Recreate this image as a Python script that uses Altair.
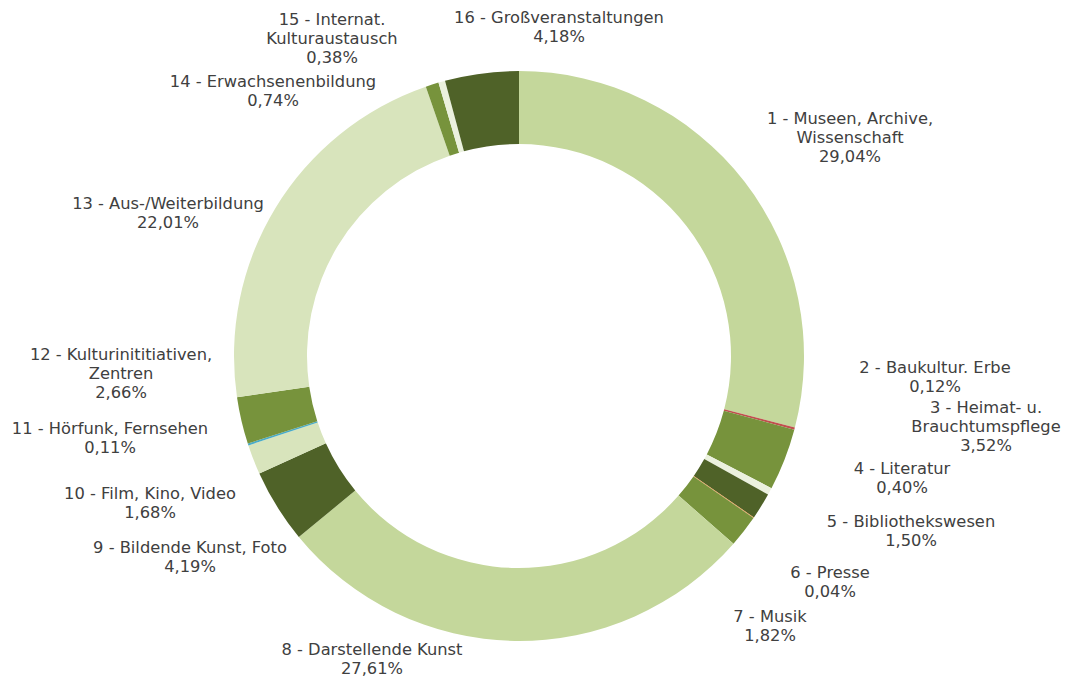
import altair as alt
import pandas as pd

# ---- data ----
categories = [
    "1 - Museen, Archive,\nWissenschaft",
    "2 - Baukultur. Erbe",
    "3 - Heimat- u.\nBrauchtumspflege",
    "4 - Literatur",
    "5 - Bibliothekswesen",
    "6 - Presse",
    "7 - Musik",
    "8 - Darstellende Kunst",
    "9 - Bildende Kunst, Foto",
    "10 - Film,  Kino, Video",
    "11 - Hörfunk, Fernsehen",
    "12 - Kulturinititiativen,\nZentren",
    "13 - Aus-/Weiterbildung",
    "14 - Erwachsenenbildung",
    "15 - Internat.\nKulturaustausch",
    "16 - Großveranstaltungen",
]
shares = [29.04, 0.12, 3.52, 0.40, 1.50, 0.04, 1.82, 27.61,
          4.19, 1.68, 0.11, 2.66, 22.01, 0.74, 0.38, 4.18]

# ---- styling ----
colors = ["#c4d79b", "#c0504d", "#77933c", "#ebf1de", "#4f6228", "#f79646",
          "#77933c", "#c4d79b", "#4f6228", "#d8e4bc", "#4bacc6", "#77933c",
          "#d8e4bc", "#77933c", "#ebf1de", "#4f6228"]
# label block offsets from the donut centre (pixels), as laid out in the reference
label_dx = [331, 416, 467, 383, 392, 311, 251, -147, -329, -369, -409, -398, -351, -246, -187, 40]
label_dy = [-218, 21, 71, 122, 175, 226, 270, 303, 201, 147, 82, 18, -143, -265, -317, -329]

CX, CY = 511, 348
W, H = 1054, 668
LH = 19

keys = [f"k{i:02d}" for i in range(len(categories))]
label_txt = [c + "\n" + f"{v:.2f}".replace(".", ",") + "%" for c, v in zip(categories, shares)]
df = pd.DataFrame({
    "key": keys,
    "order": list(range(len(categories))),
    "share": shares,
    "label": label_txt,
    "nl": [t.count("\n") for t in label_txt],
    "ox": label_dx,
    "oy": label_dy,
})

base = alt.Chart(df)

arcs = base.mark_arc(innerRadius=212, outerRadius=285, stroke=None).encode(
    theta=alt.Theta("share:Q", stack=True),
    order=alt.Order("order:Q"),
    color=alt.Color("key:N", scale=alt.Scale(domain=keys, range=colors), legend=None),
    x=alt.value(CX),
    y=alt.value(CY),
)

labels = base.transform_calculate(
    px=f"{CX} + datum.ox",
    py=f"{CY} + datum.oy - datum.nl * {LH / 2}",
).mark_text(
    font="DejaVu Sans", fontSize=16.3, color="#404040",
    align="center", baseline="middle", lineBreak="\n", lineHeight=LH,
).encode(
    x=alt.X("px:Q", scale=None, axis=None),
    y=alt.Y("py:Q", scale=None, axis=None),
    text="label:N",
)

chart = alt.layer(arcs, labels).properties(
    width=W, height=H, padding=0, autosize=alt.AutoSizeParams(type="none"),
).configure_view(stroke=None)

chart.save("out.html", embed_options={"renderer": "svg", "actions": False})
